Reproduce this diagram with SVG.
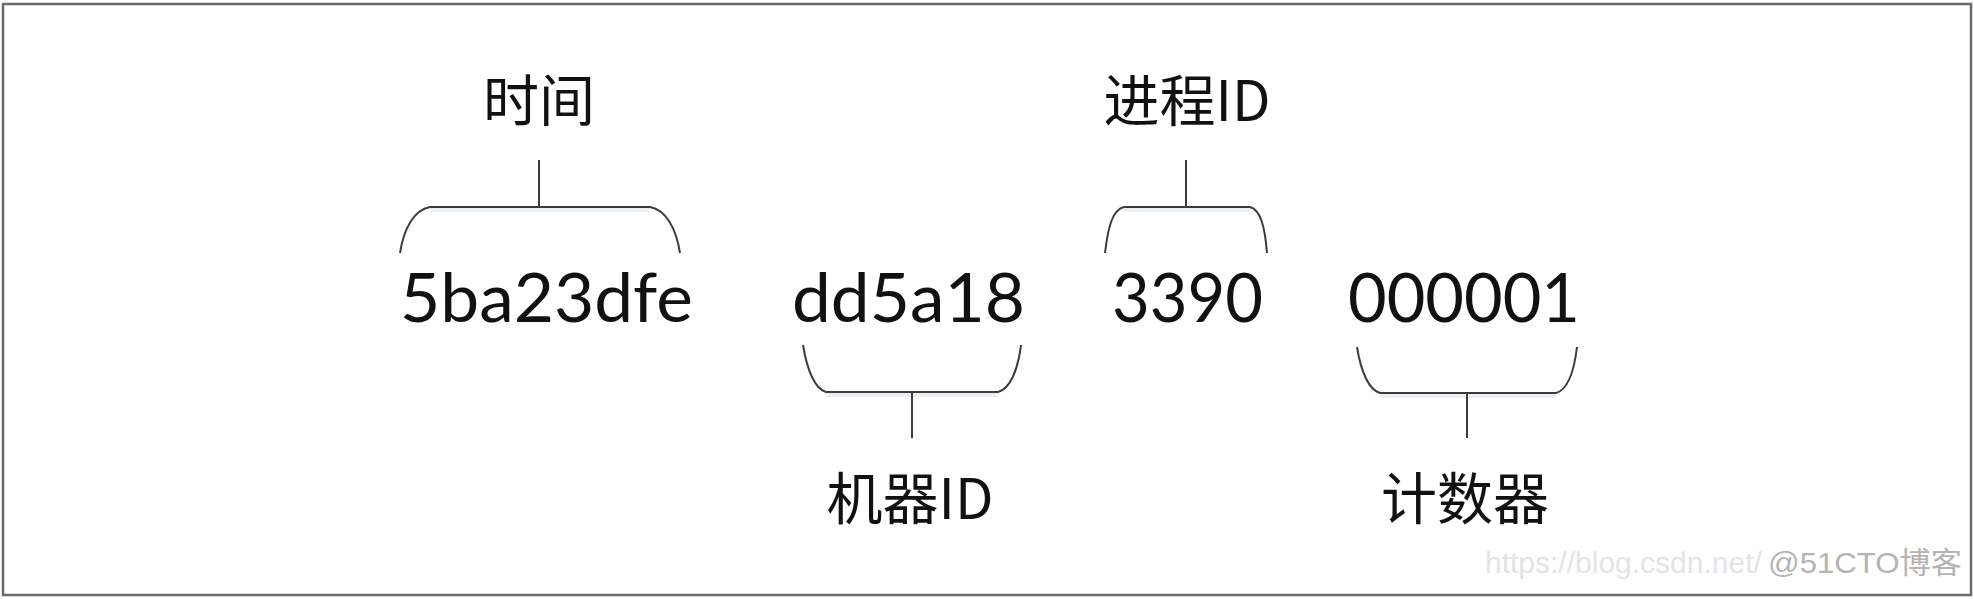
<svg xmlns="http://www.w3.org/2000/svg" width="1974" height="599" viewBox="0 0 1974 599">
<defs>
<style>
.lbl{font-family:"Noto Sans CJK SC","Noto Sans",sans-serif;font-size:56px;fill:#111;text-anchor:middle}
.val{font-family:Lato,"Liberation Sans",sans-serif;font-size:68px;fill:#111}
.br{fill:none;stroke:#3c3c3c;stroke-width:2}
.sh{fill:none;stroke:#dde6ef;stroke-width:4;opacity:0.6}
.wm1{font-family:"Liberation Sans",sans-serif;font-size:30px;fill:#e4e4e4}
.wm2{font-family:"Liberation Sans","Noto Sans CJK SC",sans-serif;font-size:30px;fill:#b4b4b4}
</style>
</defs>
<rect x="0" y="0" width="1974" height="599" fill="#fff"/>
<rect x="3" y="4" width="1968" height="591" fill="none" stroke="#6a6a6a" stroke-width="2.5"/>

<g id="connectors">
  <path class="sh" d="M430,210 L650,210"/>
  <path class="br" d="M400,253 C404,228 414,210 430,207 L650,207 C666,210 676,228 680,253 M539,160 L539,207"/>
  <path class="sh" d="M1124,210 L1250,210"/>
  <path class="br" d="M1105,253 C1108,228 1112,210 1124,207 L1250,207 C1261,210 1265,228 1267,253 M1186,160 L1186,207"/>
  <path class="sh" d="M826,395 L998,395"/>
  <path class="br" d="M803,345 C807,370 815,389 826,392 L998,392 C1010,389 1018,370 1021,345 M912,392 L912,438"/>
  <path class="sh" d="M1380,396 L1556,396"/>
  <path class="br" d="M1357,347 C1361,372 1369,390 1380,393 L1556,393 C1567,390 1574,372 1577,347 M1467,393 L1467,438"/>
</g>

<g id="node-time">
  <text class="lbl" x="539" y="121">时间</text>
  <text class="val" x="400" y="322" textLength="293" lengthAdjust="spacingAndGlyphs">5ba23dfe</text>
</g>
<g id="node-machine">
  <text class="val" x="792" y="322" textLength="233" lengthAdjust="spacingAndGlyphs">dd5a18</text>
  <text class="lbl" x="910" y="519">机器ID</text>
</g>
<g id="node-process">
  <text class="lbl" x="1187" y="121">进程ID</text>
  <text class="val" x="1112" y="322" textLength="151" lengthAdjust="spacingAndGlyphs">3390</text>
</g>
<g id="node-counter">
  <text class="val" x="1348" y="322" textLength="232" lengthAdjust="spacingAndGlyphs">000001</text>
  <text class="lbl" x="1465" y="519">计数器</text>
</g>
<g id="watermark">
  <text class="wm1" x="1485" y="573">https://blog.csdn.net/</text>
  <text class="wm2" x="1768" y="573" textLength="194" lengthAdjust="spacingAndGlyphs">@51CTO博客</text>
</g>
</svg>
